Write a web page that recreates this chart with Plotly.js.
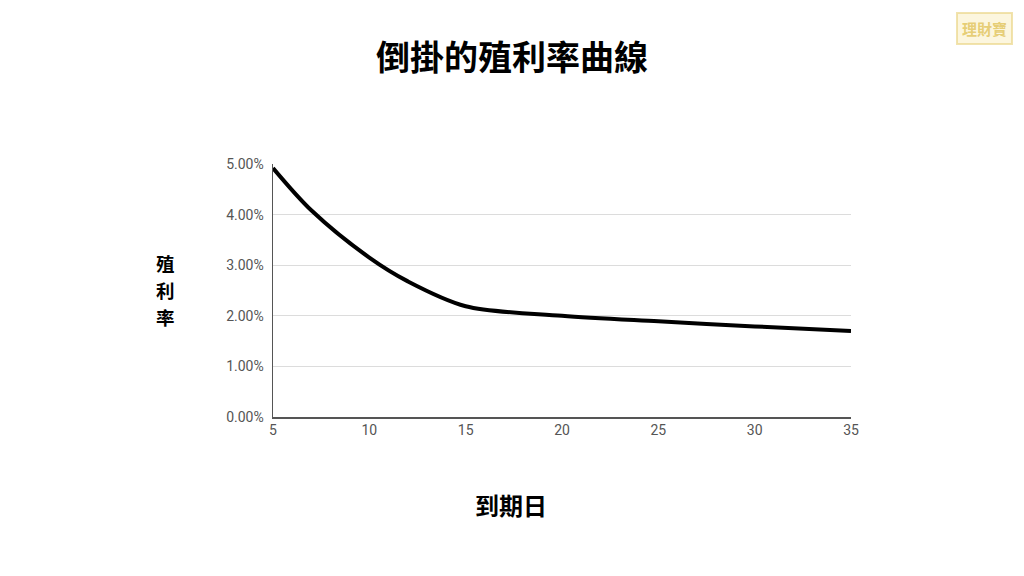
<!DOCTYPE html>
<html>
<head>
<meta charset="utf-8">
<script src="https://cdn.plot.ly/plotly-3.0.1.min.js"></script>
<style>
  html, body { margin: 0; padding: 0; background: #fff; }
  #chart { width: 1024px; height: 576px; }
</style>
</head>
<body>
<div id="chart"></div>
<script>
// Maturity (x) and yield in percent (y) for an inverted yield curve
const maturities = [5, 7, 10, 12, 15, 20, 25, 30, 35];
const yields = [4.92, 4.08, 3.15, 2.68, 2.19, 2.0, 1.89, 1.79, 1.7];
const yTicks = [0, 1, 2, 3, 4, 5];
const xTicks = [5, 10, 15, 20, 25, 30, 35];

const chartTitle = '倒掛的殖利率曲線';
const yTitleChars = ['殖', '利', '率'];
const xTitle = '到期日';
const badgeText = '理財寶';

const cjk = '"Noto Sans CJK TC", "Noto Sans CJK SC", sans-serif';

const trace = {
  x: maturities,
  y: yields,
  type: 'scatter',
  mode: 'lines',
  line: { color: '#000000', width: 4, shape: 'spline', smoothing: 0.9 },
  hoverinfo: 'skip'
};

// vertical y-axis title: one character per row, stacked top to bottom
const yTitleAnnotations = yTitleChars.map((ch, i) => ({
  text: ch,
  xref: 'paper', yref: 'paper',
  x: (165 - 273) / 578,
  y: (417 - (263 + i * 27)) / 253,
  xanchor: 'center', yanchor: 'middle',
  showarrow: false,
  borderpad: 0,
  font: { family: cjk, size: 18.5, color: '#000000', weight: 700 }
}));

const layout = {
  width: 1024,
  height: 576,
  paper_bgcolor: '#ffffff',
  plot_bgcolor: '#ffffff',
  margin: { l: 273, r: 173, t: 164, b: 159 },
  showlegend: false,
  title: {
    text: chartTitle,
    x: 0.5,
    xref: 'container',
    xanchor: 'center',
    y: 0.9,
    yref: 'container',
    yanchor: 'middle',
    font: { family: cjk, size: 34, color: '#000000', weight: 700 }
  },
  xaxis: {
    range: [5, 35],
    tickvals: xTicks,
    ticktext: xTicks.map(String),
    showgrid: false,
    zeroline: false,
    showline: true,
    linecolor: '#555555',
    linewidth: 1.5,
    ticks: '',
    tickfont: { family: 'Roboto, sans-serif', size: 14, color: '#555555' }
  },
  yaxis: {
    range: [0, 5],
    tickvals: yTicks,
    ticktext: yTicks.map(v => v.toFixed(2) + '%'),
    showgrid: true,
    gridcolor: '#dcdcdc',
    gridwidth: 1,
    zeroline: false,
    showline: true,
    linecolor: '#555555',
    linewidth: 1.5,
    ticks: '',
    ticklabelstandoff: 5,
    tickfont: { family: 'Roboto, sans-serif', size: 14, color: '#555555' }
  },
  annotations: yTitleAnnotations.concat([
    {
      text: xTitle,
      xref: 'paper', yref: 'paper',
      x: (511 - 273) / 578, y: (417 - 504) / 253,
      xanchor: 'center', yanchor: 'middle',
      showarrow: false,
      font: { family: cjk, size: 24, color: '#000000', weight: 700 }
    },
    {
      text: badgeText,
      xref: 'paper', yref: 'paper',
      x: (984 - 273) / 578, y: (417 - 28) / 253,
      xanchor: 'center', yanchor: 'middle',
      showarrow: false,
      bgcolor: 'rgba(250,240,200,0.6)',
      bordercolor: 'rgba(235,215,140,0.7)',
      borderwidth: 2,
      borderpad: 4,
      font: { family: cjk, size: 15, color: 'rgba(225,195,90,0.8)', weight: 700 }
    }
  ])
};

Plotly.newPlot('chart', [trace], layout, { displayModeBar: false, staticPlot: true });
</script>
</body>
</html>
